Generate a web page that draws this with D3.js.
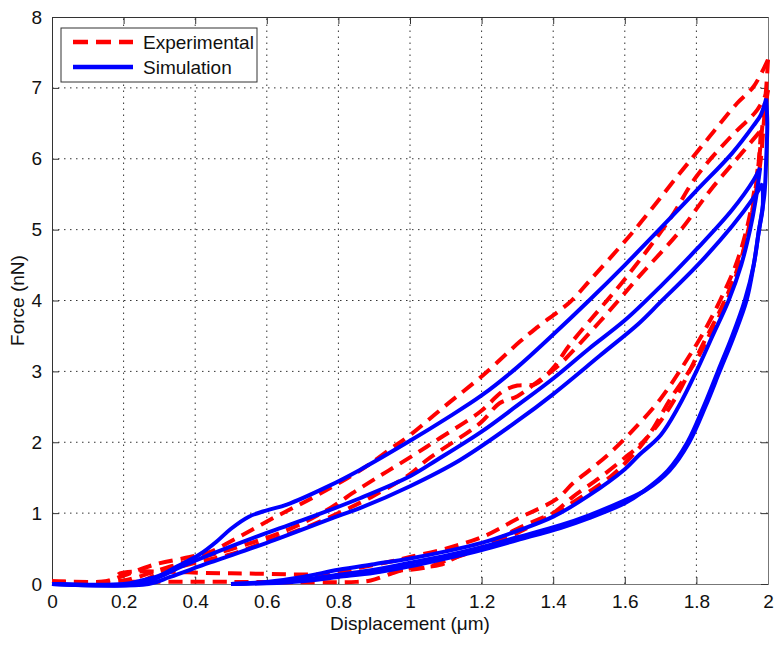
<!DOCTYPE html>
<html>
<head>
<meta charset="utf-8">
<script src="https://cdn.jsdelivr.net/npm/d3@7"></script>
<style>
  body { margin: 0; background: #fff; }
  #chart { width: 782px; height: 645px; }
</style>
</head>
<body>
<div id="chart"></div>
<script>
// x = displacement (um), F = force (nN)
const xTicks = [0, 0.2, 0.4, 0.6, 0.8, 1, 1.2, 1.4, 1.6, 1.8, 2];
const yTicks = [0, 1, 2, 3, 4, 5, 6, 7, 8];

// experimental loops (red dashed)
const expLoad1 = [[0,0.04],[0.15,0.04],[0.2,0.12],[0.29,0.28],[0.385,0.38],[0.44,0.45],[0.506,0.62],[0.618,0.93],[0.74,1.25],[0.86,1.6],[0.944,1.9],[1.0,2.1],[1.1,2.52],[1.205,2.95],[1.307,3.42],[1.355,3.62],[1.447,3.98],[1.5,4.27],[1.623,4.97],[1.745,5.74],[1.838,6.32],[1.913,6.78],[1.96,7.02],[2.0,7.4]];
const expUnload1 = [[2.0,7.4],[1.995,7.0],[1.985,6.5],[1.975,6.0],[1.96,5.5],[1.94,5.0],[1.91,4.5],[1.866,4.0],[1.82,3.55],[1.773,3.16],[1.698,2.6],[1.615,2.13],[1.559,1.85],[1.5,1.6],[1.455,1.42],[1.41,1.2],[1.3,0.92],[1.205,0.67],[1.1,0.5],[1.0,0.38],[0.93,0.3],[0.85,0.22],[0.8,0.15],[0.5,0.15],[0.19,0.15],[0.18,0.1]];
const expLoad2 = [[0,0.04],[0.2,0.05],[0.3,0.2],[0.4,0.35],[0.506,0.5],[0.656,0.76],[0.76,1.02],[0.86,1.35],[0.94,1.6],[1.02,1.85],[1.084,2.06],[1.196,2.43],[1.26,2.72],[1.3,2.8],[1.35,2.82],[1.4,3.05],[1.447,3.38],[1.53,3.88],[1.6,4.3],[1.726,5.15],[1.8,5.75],[1.894,6.3],[1.97,6.69],[2.0,6.97]];
const expUnload2 = [[2.0,6.97],[1.99,6.6],[1.98,6.0],[1.965,5.5],[1.945,5.0],[1.92,4.5],[1.885,4.0],[1.84,3.55],[1.8,3.16],[1.726,2.6],[1.68,2.2],[1.642,1.93],[1.6,1.7],[1.559,1.51],[1.5,1.3],[1.42,1.05],[1.3,0.78],[1.215,0.55],[1.13,0.38],[1.084,0.27],[1.0,0.22],[0.95,0.15],[0.89,0.05],[0.85,0.03],[0.5,0.03],[0.2,0.03]];
const expLoad3 = [[0.25,0.03],[0.3,0.15],[0.4,0.3],[0.5,0.42],[0.6,0.6],[0.7,0.78],[0.8,1.0],[0.9,1.25],[1.0,1.55],[1.047,1.75],[1.196,2.27],[1.25,2.55],[1.3,2.65],[1.363,2.88],[1.41,3.06],[1.53,3.7],[1.642,4.35],[1.754,4.98],[1.838,5.55],[1.93,6.1],[1.98,6.4]];
const expUnload3 = [[1.98,6.4],[1.975,6.0],[1.96,5.4],[1.94,4.85],[1.9,4.25],[1.87,3.9],[1.82,3.4],[1.79,3.1],[1.75,2.7],[1.7,2.3],[1.65,2.0],[1.6,1.78],[1.53,1.5],[1.455,1.23],[1.4,1.0],[1.3,0.72],[1.2,0.5],[1.1,0.33],[1.05,0.24],[1.0,0.2],[0.92,0.18],[0.85,0.16],[0.8,0.15]];

// simulation loops (blue solid)
const simLoad1 = [[0,0],[0.2,0],[0.25,0.05],[0.3,0.12],[0.35,0.25],[0.413,0.42],[0.46,0.6],[0.5,0.78],[0.55,0.95],[0.6,1.04],[0.656,1.12],[0.768,1.37],[0.86,1.61],[1.0,2.02],[1.1,2.33],[1.2,2.66],[1.3,3.06],[1.4,3.52],[1.5,4.0],[1.6,4.5],[1.7,5.02],[1.8,5.55],[1.9,6.08],[1.96,6.47],[1.98,6.62],[1.995,6.85]];
const simUnload1 = [[1.995,6.85],[1.998,6.5],[1.995,6.0],[1.99,5.5],[1.975,5.0],[1.96,4.5],[1.935,4.0],[1.9,3.5],[1.86,3.0],[1.82,2.5],[1.775,2.0],[1.72,1.6],[1.65,1.3],[1.6,1.14],[1.5,0.93],[1.42,0.79],[1.3,0.62],[1.2,0.48],[1.1,0.36],[1.0,0.25],[0.9,0.16],[0.8,0.1],[0.7,0.04],[0.6,0.01],[0.5,0]];
const simLoad2 = [[0,0],[0.24,0],[0.3,0.1],[0.35,0.22],[0.44,0.41],[0.6,0.72],[0.7,0.9],[0.86,1.21],[1.0,1.52],[1.075,1.75],[1.2,2.15],[1.3,2.52],[1.4,2.9],[1.5,3.32],[1.6,3.72],[1.7,4.2],[1.8,4.72],[1.9,5.28],[1.96,5.7],[1.978,5.87]];
const simUnload2 = [[1.978,5.87],[1.965,5.4],[1.95,5.0],[1.925,4.5],[1.89,4.0],[1.845,3.5],[1.8,3.0],[1.75,2.5],[1.7,2.1],[1.64,1.82],[1.6,1.62],[1.5,1.25],[1.4,0.95],[1.3,0.75],[1.2,0.58],[1.1,0.46],[1.0,0.36],[0.9,0.28],[0.8,0.2],[0.7,0.1],[0.6,0.03],[0.5,0]];
const simLoad3 = [[0,0],[0.27,0],[0.33,0.1],[0.44,0.3],[0.6,0.58],[0.8,0.96],[0.86,1.07],[1.0,1.38],[1.14,1.75],[1.3,2.3],[1.4,2.68],[1.53,3.22],[1.64,3.68],[1.7,3.98],[1.8,4.48],[1.9,5.05],[1.96,5.45],[1.985,5.65]];
const simUnload3 = [[1.985,5.65],[1.985,5.3],[1.975,5.0],[1.96,4.5],[1.94,4.0],[1.905,3.5],[1.865,3.0],[1.825,2.5],[1.78,2.0],[1.725,1.6],[1.66,1.33],[1.6,1.18],[1.5,0.97],[1.42,0.83],[1.3,0.66],[1.2,0.52],[1.1,0.4],[1.0,0.3],[0.9,0.2],[0.8,0.13],[0.7,0.06],[0.6,0.02],[0.5,0]];

const expCurves = [expLoad1, expUnload1, expLoad2, expUnload2, expLoad3, expUnload3];
const simCurves = [simLoad1, simUnload1, simLoad2, simUnload2, simLoad3, simUnload3];

const width = 782, height = 645;
const margin = { top: 17, right: 14, bottom: 61, left: 52 };
const font = "'Liberation Sans', Arial, sans-serif";

const svg = d3.select("#chart")
  .append("svg")
  .attr("width", width)
  .attr("height", height)
  .style("background-color", "#FFFFFF");

const x = d3.scaleLinear().domain([0, 2]).range([margin.left, width - margin.right]);
const y = d3.scaleLinear().domain([0, 8]).range([height - margin.bottom, margin.top]);

// dotted grid
const grid = svg.append("g")
  .attr("stroke", "#333")
  .attr("stroke-width", 1)
  .attr("stroke-dasharray", "1.5,4.5");
grid.selectAll(".gx")
  .data(xTicks.slice(1, -1))
  .enter()
  .append("line")
  .attr("x1", d => x(d)).attr("x2", d => x(d))
  .attr("y1", y(0)).attr("y2", y(8));
grid.selectAll(".gy")
  .data(yTicks.slice(1, -1))
  .enter()
  .append("line")
  .attr("x1", x(0)).attr("x2", x(2))
  .attr("y1", d => y(d)).attr("y2", d => y(d));

// axes with inward ticks on all four sides
const tickLen = 7;
const axisBottom = svg.append("g")
  .attr("transform", `translate(0,${y(0)})`)
  .call(d3.axisBottom(x).tickValues(xTicks).tickSize(-tickLen).tickPadding(tickLen + 4).tickFormat(d3.format("")));
const axisLeft = svg.append("g")
  .attr("transform", `translate(${x(0)},0)`)
  .call(d3.axisLeft(y).tickValues(yTicks).tickSize(-tickLen).tickPadding(tickLen + 3).tickFormat(d3.format("")));
const axisTop = svg.append("g")
  .attr("transform", `translate(0,${y(8)})`)
  .call(d3.axisTop(x).tickValues(xTicks).tickSize(-tickLen).tickFormat(""));
const axisRight = svg.append("g")
  .attr("transform", `translate(${x(2)},0)`)
  .call(d3.axisRight(y).tickValues(yTicks).tickSize(-tickLen).tickFormat(""));

[axisBottom, axisLeft, axisTop, axisRight].forEach(a => {
  a.select(".domain").attr("stroke", "#333");
  a.selectAll(".tick line").attr("stroke", "#333");
  a.selectAll("text")
    .attr("fill", "#111")
    .style("font-family", font)
    .style("font-size", "19px");
});
axisBottom.select(".domain").attr("stroke", "#777");
axisRight.select(".domain").attr("stroke", "#777");

// curves
const line = d3.line()
  .x(d => x(d[0]))
  .y(d => y(d[1]))
  .curve(d3.curveCatmullRom.alpha(0.5));

svg.append("g")
  .selectAll("path")
  .data(expCurves)
  .enter()
  .append("path")
  .attr("d", line)
  .attr("fill", "none")
  .attr("stroke", "#FF0000")
  .attr("stroke-width", 4)
  .attr("stroke-dasharray", "14,8");

svg.append("g")
  .selectAll("path")
  .data(simCurves)
  .enter()
  .append("path")
  .attr("d", line)
  .attr("fill", "none")
  .attr("stroke", "#0000FF")
  .attr("stroke-width", 4)
  .attr("stroke-linejoin", "round");

// axis labels
svg.append("text")
  .attr("x", x(1))
  .attr("y", 630)
  .attr("text-anchor", "middle")
  .attr("fill", "#111")
  .style("font-family", font)
  .style("font-size", "19px")
  .text("Displacement (μm)");

svg.append("text")
  .attr("transform", `translate(24,${y(4)}) rotate(-90)`)
  .attr("text-anchor", "middle")
  .attr("fill", "#111")
  .style("font-family", font)
  .style("font-size", "19px")
  .text("Force (nN)");

// legend
const legend = svg.append("g");
legend.append("rect")
  .attr("x", 61).attr("y", 28)
  .attr("width", 196).attr("height", 54)
  .attr("fill", "#FFFFFF")
  .attr("stroke", "#333")
  .attr("stroke-width", 1);

const legendItems = [
  { label: "Experimental", color: "#FF0000", dash: "15,8" },
  { label: "Simulation", color: "#0000FF", dash: null }
];
legendItems.forEach((item, i) => {
  const ly = 42 + i * 25;
  legend.append("line")
    .attr("x1", 73).attr("x2", 133)
    .attr("y1", ly).attr("y2", ly)
    .attr("stroke", item.color)
    .attr("stroke-width", 4.5)
    .attr("stroke-dasharray", item.dash);
  legend.append("text")
    .attr("x", 143)
    .attr("y", ly)
    .attr("dy", "0.36em")
    .attr("fill", "#111")
    .style("font-family", font)
    .style("font-size", "19px")
    .text(item.label);
});
</script>
</body>
</html>
